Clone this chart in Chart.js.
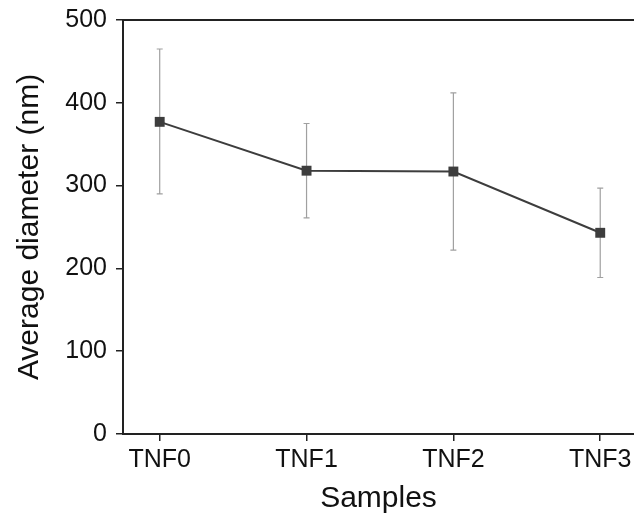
<!DOCTYPE html>
<html>
<head>
<meta charset="utf-8">
<script src="https://cdn.jsdelivr.net/npm/chart.js@4"></script>
<style>
  html, body { margin: 0; padding: 0; background: #fff; overflow: hidden; }
  #wrap { width: 634px; height: 517px; }
</style>
</head>
<body>
<div id="wrap"><canvas id="diameterChart" width="634" height="517"></canvas></div>
<script>
// data
var samples = ["TNF0", "TNF1", "TNF2", "TNF3"];
var avgDiameter = [377, 318, 317, 243];
var errLow = [290, 261, 222, 189];
var errHigh = [465, 375, 412, 297];
var yTicks = [0, 100, 200, 300, 400, 500];

var points = samples.map((s, i) => ({ x: i, y: avgDiameter[i] }));

// error bars + top frame line
var errorBars = {
    id: "errorBars",
    beforeDatasetsDraw(chart) {
        const ctx = chart.ctx;
        const xs = chart.scales.x, ys = chart.scales.y;
        ctx.save();
        ctx.strokeStyle = "#a0a0a0";
        ctx.lineWidth = 1.2;
        for (let i = 0; i < samples.length; i++) {
            const px = xs.getPixelForValue(i);
            const lo = ys.getPixelForValue(errLow[i]);
            const hi = ys.getPixelForValue(errHigh[i]);
            ctx.beginPath();
            ctx.moveTo(px, lo); ctx.lineTo(px, hi);
            ctx.moveTo(px - 3, lo); ctx.lineTo(px + 3, lo);
            ctx.moveTo(px - 3, hi); ctx.lineTo(px + 3, hi);
            ctx.stroke();
        }
        ctx.restore();
    },
    afterDraw(chart) {
        const ctx = chart.ctx, a = chart.chartArea;
        ctx.save();
        ctx.strokeStyle = "#222";
        ctx.lineWidth = 2;
        ctx.beginPath();
        ctx.moveTo(a.left, a.top);
        ctx.lineTo(chart.width, a.top);
        ctx.stroke();
        ctx.restore();
    }
};

const ctx = document.getElementById("diameterChart").getContext("2d");
new Chart(ctx, {
    type: "line",
    data: {
        datasets: [{
            label: "Average diameter",
            data: points,
            borderColor: "#3d3d3d",
            backgroundColor: "#3d3d3d",
            borderWidth: 2,
            pointStyle: "rect",
            pointRadius: 7,
            pointBorderWidth: 0,
            tension: 0
        }]
    },
    options: {
        responsive: false,
        animation: false,
        layout: { autoPadding: false, padding: { top: 20, right: 0, left: 0, bottom: 0 } },
        plugins: {
            legend: { display: false },
            tooltip: { enabled: false }
        },
        scales: {
            x: {
                type: "linear",
                min: -0.25,
                max: 3.23,
                afterBuildTicks: scale => { scale.ticks = samples.map((s, i) => ({ value: i })); },
                afterFit: scale => {
                    scale.height = 83;
                    scale.paddingLeft = 0;
                    scale.paddingRight = 0;
                },
                ticks: {
                    callback: v => samples[v],
                    font: { family: "Liberation Sans", size: 25 },
                    color: "#111",
                    padding: 4,
                    maxRotation: 0
                },
                grid: { drawOnChartArea: false, drawTicks: true, tickLength: 7, color: "#222", lineWidth: 1.5 },
                border: { display: true, color: "#222", width: 2 },
                title: {
                    display: true,
                    text: "Samples",
                    font: { family: "Liberation Sans", size: 30 },
                    color: "#111",
                    padding: { top: 0, bottom: 0 }
                }
            },
            y: {
                min: 0,
                max: 500,
                afterBuildTicks: scale => { scale.ticks = yTicks.map(v => ({ value: v })); },
                afterFit: scale => {
                    scale.width = 123;
                    scale.paddingTop = 0;
                    scale.paddingBottom = 0;
                },
                ticks: {
                    font: { family: "Liberation Sans", size: 25 },
                    color: "#111",
                    padding: 9
                },
                grid: { drawOnChartArea: false, drawTicks: true, tickLength: 7, color: "#222", lineWidth: 1.5 },
                border: { display: true, color: "#222", width: 2 },
                title: {
                    display: true,
                    text: "Average diameter (nm)",
                    font: { family: "Liberation Sans", size: 30 },
                    color: "#111",
                    padding: { top: 12, bottom: 0 }
                }
            }
        }
    },
    plugins: [errorBars]
});
</script>
</body>
</html>
